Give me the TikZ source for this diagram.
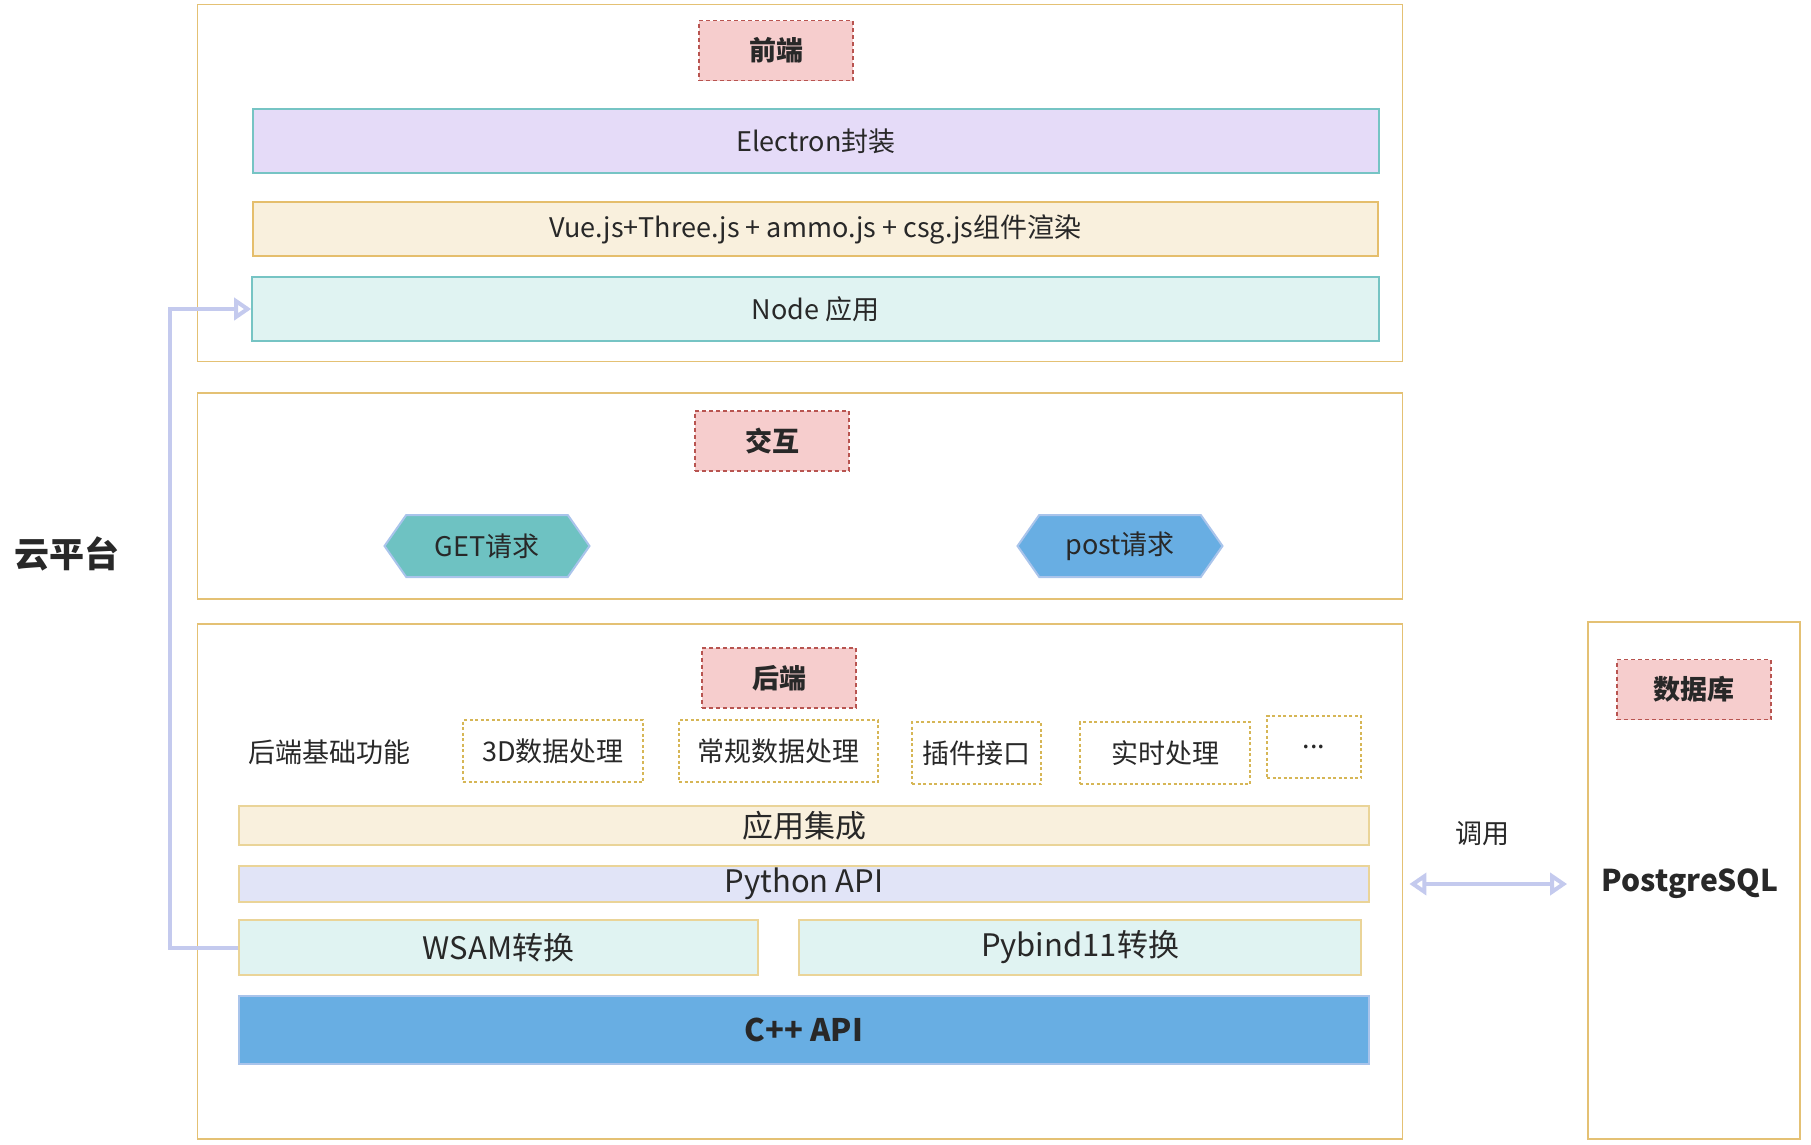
\documentclass[tikz,border=0pt]{standalone}
\usepackage{fontspec}
\setmainfont{Noto Sans CJK SC}
\usepackage{tikz}
\usetikzlibrary{arrows.meta,shapes.symbols}

\definecolor{layerline}{RGB}{228,193,116}
\definecolor{tagfill}{RGB}{246,205,205}
\definecolor{tagline}{RGB}{184,84,80}
\definecolor{textdark}{RGB}{40,40,40}
\definecolor{lavfill}{RGB}{229,219,248}
\definecolor{tealline}{RGB}{118,196,196}
\definecolor{creamfill}{RGB}{249,240,221}
\definecolor{goldline}{RGB}{229,190,108}
\definecolor{mintfill}{RGB}{224,243,242}
\definecolor{softline}{RGB}{234,212,152}
\definecolor{bluefill}{RGB}{225,228,247}
\definecolor{getfill}{RGB}{110,194,194}
\definecolor{postfill}{RGB}{104,174,227}
\definecolor{reqline}{RGB}{169,196,235}
\definecolor{funcline}{RGB}{214,182,86}
\definecolor{linkblue}{RGB}{196,202,238}

\begin{document}
\begin{tikzpicture}[
    x=1pt, y=-1pt,
    layer/.style={draw=layerline, line width=1.8pt, minimum width=1205pt},
    tag/.style={draw=tagline, fill=tagfill, dash pattern=on 4pt off 3pt, line width=1.3pt,
        minimum width=154pt, minimum height=60pt, inner sep=0pt,
        font=\fontsize{27}{30}\selectfont\bfseries, text=textdark},
    bar/.style={line width=1.6pt, inner sep=0pt, font=\fontsize{27}{30}\selectfont, text=textdark},
    lowbar/.style={bar, draw=softline, font=\fontsize{31}{34}\selectfont},
    func/.style={draw=funcline, dash pattern=on 3pt off 2.5pt, line width=1.3pt, inner sep=0pt,
        minimum height=62pt, font=\fontsize{27}{30}\selectfont, text=textdark},
    req/.style={signal, signal to=east and west, signal pointer angle=110, draw=reqline,
        line width=2pt, minimum width=205pt, minimum height=62pt, inner sep=0pt,
        font=\fontsize{27}{30}\selectfont, text=textdark},
    link/.style={draw=linkblue, line width=4pt}
]
\useasboundingbox (0,0) rectangle (1811,1144);

% Define the three layers and the database
\node[layer, minimum height=357pt] (front) at (800,183) {};
\node[layer, minimum height=206pt] (inter) at (800,496) {};
\node[layer, minimum height=515pt] (back) at (800,881.5) {};
\node[layer, minimum width=212pt, minimum height=517pt] (db) at (1694,880.5) {};

\node[font=\fontsize{35}{38}\selectfont\bfseries, text=textdark] (cloud) at (67,554) {云平台};

% Frontend
\node[tag] (fronttag) at (776,50.5) {前端};
\node[bar, draw=tealline, fill=lavfill, minimum width=1126pt, minimum height=64pt] (electron) at (816,141) {Electron封装};
\node[bar, draw=goldline, fill=creamfill, minimum width=1125pt, minimum height=54pt] (vue) at (815.5,229) {Vue.js+Three.js + ammo.js + csg.js组件渲染};
\node[bar, draw=tealline, fill=mintfill, minimum width=1127pt, minimum height=64pt] (nodeapp) at (815.5,309) {Node 应用};

% Interaction
\node[tag] (intertag) at (772,441) {交互};
\node[req, fill=getfill] (get) at (487,546) {GET请求};
\node[req, fill=postfill] (post) at (1120,546) {post请求};

% Backend
\node[tag] (backtag) at (779,678) {后端};
\node[font=\fontsize{27}{30}\selectfont, text=textdark] (basic) at (329,752) {后端基础功能};
\node[func, minimum width=180pt] (f1) at (553,751) {3D数据处理};
\node[func, minimum width=199pt] (f2) at (778.5,751) {常规数据处理};
\node[func, minimum width=129pt] (f3) at (976.5,753) {插件接口};
\node[func, minimum width=170pt] (f4) at (1165,753) {实时处理};
\node[func, minimum width=94pt] (f5) at (1314,747) {...};
\node[lowbar, fill=creamfill, minimum width=1130pt, minimum height=39pt] (integ) at (804,825.5) {应用集成};
\node[lowbar, fill=bluefill, minimum width=1130pt, minimum height=36pt] (pyapi) at (804,884) {Python API};
\node[lowbar, fill=mintfill, minimum width=519pt, minimum height=55pt] (wsam) at (498.5,947.5) {WSAM转换};
\node[lowbar, fill=mintfill, minimum width=562pt, minimum height=55pt] (pybind) at (1080,947.5) {Pybind11转换};
\node[bar, draw=reqline, fill=postfill, minimum width=1130pt, minimum height=68pt,
    font=\fontsize{31}{34}\selectfont\bfseries] (cpp) at (804,1030) {C++ API};

% Database
\node[tag] (dbtag) at (1694,689.5) {数据库};
\node[font=\fontsize{30}{33}\selectfont\bfseries, text=textdark] (pg) at (1690,884) {PostgreSQL};
\node[font=\fontsize{27}{30}\selectfont, text=textdark] (call) at (1482,834) {调用};

% Connectors
\draw[link, -{Triangle[open, length=17pt, width=22pt]}] (wsam.west) -- ++(-68,0) |- (nodeapp.west);
\draw[link, {Triangle[open, length=17pt, width=22pt]}-{Triangle[open, length=17pt, width=22pt]}]
    ([xshift=6pt]back.east |- pg) -- ([xshift=-20pt]db.west |- pg);

\end{tikzpicture}
\end{document}
